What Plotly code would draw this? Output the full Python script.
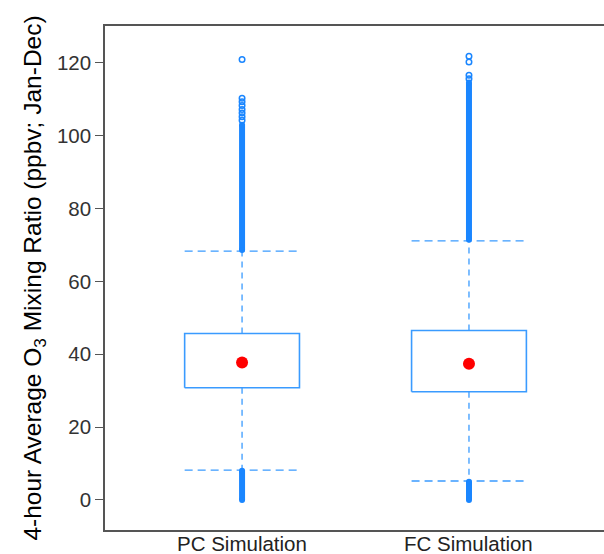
import plotly.graph_objects as go

# ---- data ----
categories = ["PC Simulation", "FC Simulation"]
cat_pos = [0, 1]
q1 = [30.8, 29.7]
q3 = [45.7, 46.5]
center = [37.7, 37.4]
lower_whisker = [8.2, 5.2]
upper_whisker = [68.3, 71.1]
# dense (overlapping) outlier runs
low_dense_min = [0.0, 0.0]
low_dense_max = [8.0, 5.0]
high_dense_min = [68.6, 71.4]
high_dense_max = [103.0, 114.6]
# individually visible outliers
sparse_outliers = [
    [104.2, 105.2, 106.2, 107.2, 108.3, 109.3, 110.3, 120.9],
    [115.6, 116.6, 120.2, 121.8],
]
y_ticks = [0, 20, 40, 60, 80, 100, 120]

BLUE = "#1a86ff"
BOX_BLUE = "#3a9bff"
DASH_BLUE = "#3a9bff"
HW = 0.253  # half width of box / caps in category units

fig = go.Figure()

for i, c in enumerate(cat_pos):
    # box rectangle
    fig.add_trace(go.Scatter(
        x=[c - HW, c + HW, c + HW, c - HW, c - HW],
        y=[q1[i], q1[i], q3[i], q3[i], q1[i]],
        mode="lines", line=dict(color=BOX_BLUE, width=1.6),
        hoverinfo="skip", showlegend=False))
    # whiskers (dashed)
    fig.add_trace(go.Scatter(
        x=[c, c, None, c, c],
        y=[q3[i], upper_whisker[i], None, q1[i], lower_whisker[i]],
        mode="lines", line=dict(color=DASH_BLUE, width=1.3, dash="6px,5px"),
        hoverinfo="skip", showlegend=False))
    # caps (dashed)
    fig.add_trace(go.Scatter(
        x=[c - HW, c + HW, None, c - HW, c + HW],
        y=[upper_whisker[i], upper_whisker[i], None, lower_whisker[i], lower_whisker[i]],
        mode="lines", line=dict(color=DASH_BLUE, width=1.3, dash="8px,5px"),
        hoverinfo="skip", showlegend=False))
    # dense outlier runs
    fig.add_trace(go.Scatter(
        x=[c, c, None, c, c],
        y=[low_dense_min[i], low_dense_max[i], None, high_dense_min[i], high_dense_max[i]],
        mode="lines", line=dict(color=BLUE, width=6),
        hoverinfo="skip", showlegend=False))
    fig.add_trace(go.Scatter(
        x=[c, c, c, c],
        y=[low_dense_min[i], low_dense_max[i], high_dense_min[i], high_dense_max[i]],
        mode="markers",
        marker=dict(symbol="circle", size=6, color=BLUE, line=dict(width=0)),
        hoverinfo="skip", showlegend=False))
    # sparse outliers
    fig.add_trace(go.Scatter(
        x=[c] * len(sparse_outliers[i]), y=sparse_outliers[i],
        mode="markers",
        marker=dict(symbol="circle-open", size=5.5, color=BLUE, line=dict(width=1.5)),
        hoverinfo="skip", showlegend=False))
    # central dot
    fig.add_trace(go.Scatter(
        x=[c], y=[center[i]], mode="markers",
        marker=dict(symbol="circle", size=12, color="#ff0000"),
        hoverinfo="skip", showlegend=False))

# category labels placed just under the axis line
for c, lab in zip(cat_pos, categories):
    fig.add_annotation(
        x=c, xref="x", y=0, yref="paper", yanchor="top", yshift=-1,
        text=lab, showarrow=False, borderpad=0,
        font=dict(size=20.5, color="#222222"))

AX = "#555555"
fig.update_layout(
    width=604, height=554,
    margin=dict(l=105, r=0, t=26, b=24),
    paper_bgcolor="white", plot_bgcolor="white",
    font=dict(family="Liberation Sans, Arial, sans-serif", color="#222222"),
    xaxis=dict(
        range=[-0.604, 1.595], tickvals=cat_pos, showticklabels=False,
        showgrid=False, zeroline=False, showline=True, linecolor=AX, linewidth=1.5,
        mirror=True, ticks="", automargin=False,
    ),
    yaxis=dict(
        range=[-8.25, 130.1], tickvals=y_ticks,
        showgrid=False, zeroline=False, showline=True, linecolor=AX, linewidth=1.5,
        ticks="outside", ticklen=8, tickcolor=AX, tickwidth=1.3,
        tickfont=dict(size=20.5, color="#333333"),
        automargin=False,
        title=dict(text="4-hour Average O<sub>3</sub> Mixing Ratio (ppbv; Jan-Dec)",
                   font=dict(size=24.5, color="#000000"), standoff=8),
    ),
)

fig.write_html("out.html")
